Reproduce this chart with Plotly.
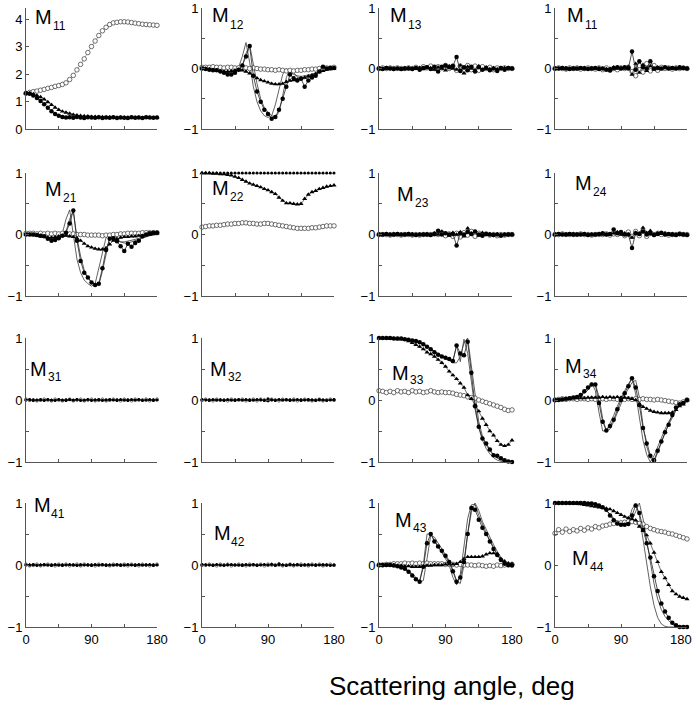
import plotly.graph_objects as go

# ---------------- data ----------------
ANGLES = [0, 5, 10, 15, 20, 25, 30, 35, 40, 45,
          50, 55, 60, 65, 70, 75, 80, 85, 90, 95,
          100, 105, 110, 115, 120, 125, 130, 135, 140, 145,
          150, 155, 160, 165, 170, 175, 180]

X_TICKS = [0, 45, 90, 135, 180]
X_TICKTEXT = ["0", "", "90", "", "180"]
Y_TICKS = [-1, -0.5, 0, 0.5, 1]
Y_TICKTEXT = ["\u22121", "", "0", "", "1"]
M11_TICKS = [0, 1, 2, 3, 4]
M11_TICKTEXT = ["0", "1", "2", "3", "4"]

LABELS = ["11", "12", "13", "11", "21", "22", "23", "24",
          "31", "32", "33", "34", "41", "42", "43", "44"]
X_TITLE = "Scattering angle, deg"

M11_open = [1.30, 1.33, 1.36, 1.38, 1.41, 1.44, 1.48, 1.51, 1.55, 1.58,
            1.62, 1.68, 1.80, 1.95, 2.15, 2.35, 2.55, 2.78, 3.00, 3.20,
            3.40, 3.57, 3.70, 3.80, 3.86, 3.88, 3.90, 3.90, 3.89, 3.87,
            3.85, 3.83, 3.81, 3.80, 3.79, 3.78, 3.77]
M11_filled = [1.30, 1.28, 1.22, 1.13, 1.02, 0.90, 0.77, 0.65, 0.55, 0.48,
              0.44, 0.42, 0.43, 0.41, 0.44, 0.42, 0.40, 0.43, 0.42, 0.41,
              0.43, 0.40, 0.42, 0.41, 0.43, 0.40, 0.42, 0.41, 0.40, 0.43,
              0.41, 0.42, 0.40, 0.43, 0.42, 0.41, 0.42]
M11_tri = [1.30, 1.30, 1.27, 1.22, 1.16, 1.08, 0.98, 0.88, 0.78, 0.70,
           0.64, 0.60, 0.56, 0.52, 0.50, 0.48, 0.47, 0.46, 0.45, 0.45,
           0.44, 0.44, 0.43, 0.43, 0.43, 0.42, 0.42, 0.42, 0.42, 0.42,
           0.42, 0.42, 0.41, 0.41, 0.41, 0.41, 0.41]

M12_open = [0.02, 0.02, 0.02, 0.03, 0.02, 0.02, 0.01, 0.02, 0.02, 0.01,
            0.01, 0.02, 0.01, 0.00, 0.01, 0.00, -0.01, -0.01, -0.02, -0.02,
            -0.03, -0.02, -0.03, -0.04, -0.03, -0.04, -0.03, -0.03, -0.02, -0.02,
            -0.01, -0.01, 0.00, 0.00, 0.01, 0.01, 0.02]
M12_filled = [0.00, -0.01, -0.02, -0.03, -0.03, -0.05, -0.07, -0.10, -0.10, -0.07,
              -0.02, 0.05, 0.20, 0.37, -0.12, -0.38, -0.55, -0.68, -0.75, -0.83,
              -0.80, -0.68, -0.50, -0.30, -0.10, -0.16, -0.20, -0.17, -0.30, -0.20,
              -0.15, -0.12, -0.05, 0.03, 0.00, 0.01, 0.01]
M12_tri = [0.00, 0.00, -0.01, -0.02, -0.03, -0.04, -0.05, -0.05, -0.04, -0.03,
           -0.02, -0.03, -0.05, -0.08, -0.12, -0.16, -0.19, -0.21, -0.23, -0.25,
           -0.26, -0.26, -0.25, -0.22, -0.20, -0.19, -0.18, -0.16, -0.15, -0.13,
           -0.11, -0.09, -0.06, -0.04, -0.02, -0.01, 0.00]
M12_th1 = [0.00, 0.00, -0.01, -0.02, -0.03, -0.04, -0.05, -0.06, -0.06, -0.04,
           0.02, 0.20, 0.43, 0.10, -0.30, -0.55, -0.70, -0.78, -0.81, -0.78,
           -0.60, -0.35, -0.10, 0.00, -0.05, -0.10, -0.12, -0.13, -0.12, -0.11,
           -0.09, -0.07, -0.05, -0.03, -0.02, -0.01, 0.00]
M12_th2 = [0.00, 0.00, -0.01, -0.02, -0.03, -0.04, -0.05, -0.06, -0.07, -0.06,
           -0.02, 0.05, 0.25, 0.39, 0.05, -0.25, -0.50, -0.65, -0.72, -0.78,
           -0.81, -0.72, -0.45, -0.15, 0.00, -0.08, -0.14, -0.16, -0.17, -0.15,
           -0.12, -0.09, -0.06, -0.03, -0.02, -0.01, 0.00]

M13_filled = [0.00, -0.01, 0.01, 0.00, -0.01, 0.00, -0.01, 0.00, 0.00, -0.01,
              0.01, -0.02, 0.01, 0.02, -0.01, 0.03, -0.05, 0.03, 0.05, 0.02,
              0.04, 0.19, -0.04, 0.02, -0.03, 0.03, -0.05, 0.02, -0.02, 0.01,
              -0.03, 0.00, -0.04, 0.01, -0.02, 0.01, 0.00]
M13_open = [0.00, 0.01, 0.00, 0.01, 0.00, 0.01, 0.00, 0.00, 0.01, 0.00,
            0.02, 0.00, 0.03, 0.01, 0.04, 0.00, 0.03, 0.01, 0.05, 0.00,
            0.04, -0.03, 0.04, -0.05, 0.05, -0.02, 0.04, -0.03, 0.03, 0.00,
            0.02, -0.02, 0.01, 0.00, 0.01, 0.00, 0.00]
M13_tri = [0.00, 0.00, 0.01, 0.00, 0.00, 0.00, -0.01, 0.00, 0.01, 0.00,
           0.00, 0.01, -0.01, 0.02, 0.01, -0.02, 0.02, 0.00, -0.03, 0.04,
           0.00, -0.02, 0.05, -0.08, 0.03, 0.00, -0.03, 0.04, -0.02, 0.02,
           -0.01, 0.01, -0.01, 0.00, 0.01, 0.00, 0.00]

M14_filled = [0.00, 0.00, 0.01, 0.00, -0.01, 0.00, 0.00, 0.01, 0.00, -0.01,
              0.00, 0.01, -0.01, 0.00, -0.02, -0.03, 0.01, 0.02, 0.00, 0.02,
              0.00, 0.28, -0.02, 0.12, 0.02, 0.00, 0.12, 0.00, 0.01, 0.00,
              0.02, 0.00, 0.01, 0.00, 0.02, 0.01, 0.00]
M14_open = [0.00, 0.01, 0.00, -0.01, 0.01, 0.00, 0.01, -0.01, 0.00, 0.01,
            0.00, -0.01, 0.01, -0.02, 0.01, -0.03, 0.00, -0.02, 0.01, 0.00,
            0.02, -0.05, -0.12, 0.05, -0.06, 0.08, -0.04, 0.05, -0.03, 0.02,
            0.00, 0.01, -0.01, 0.01, 0.00, 0.01, 0.00]
M14_tri = [0.00, 0.00, 0.00, 0.01, 0.00, 0.00, -0.01, 0.00, 0.01, 0.00,
           0.00, 0.00, 0.01, 0.00, -0.01, 0.00, 0.02, 0.00, 0.01, 0.00,
           0.03, -0.10, 0.08, -0.07, 0.06, -0.04, 0.04, -0.02, 0.02, -0.01,
           0.01, 0.00, 0.01, 0.00, 0.00, 0.00, 0.00]

M21_open = [0.02, 0.02, 0.02, 0.01, 0.02, 0.01, 0.02, 0.01, 0.02, 0.01,
            0.02, 0.01, 0.01, 0.01, 0.00, 0.00, 0.00, -0.01, -0.01, -0.01,
            -0.01, -0.02, -0.01, -0.01, 0.00, 0.00, 0.01, 0.01, 0.02, 0.02,
            0.02, 0.02, 0.03, 0.03, 0.03, 0.03, 0.03]
M21_filled = [0.00, 0.00, 0.00, -0.01, -0.02, -0.03, -0.07, -0.10, -0.09, -0.06,
              -0.02, 0.03, 0.18, 0.39, -0.10, -0.43, -0.62, -0.70, -0.78, -0.82,
              -0.80, -0.55, -0.25, -0.07, -0.06, -0.11, -0.19, -0.27, -0.15, -0.20,
              -0.14, -0.10, -0.03, 0.00, 0.02, 0.03, 0.03]
M21_tri = [0.00, 0.00, -0.01, -0.02, -0.03, -0.04, -0.05, -0.05, -0.04, -0.03,
           -0.02, -0.02, -0.03, -0.04, -0.06, -0.10, -0.15, -0.19, -0.21, -0.23,
           -0.24, -0.24, -0.22, -0.16, -0.10, -0.07, -0.05, -0.04, -0.04, -0.03,
           -0.03, -0.02, -0.02, -0.01, 0.00, 0.01, 0.02]
M21_th1 = [0.00, 0.00, -0.01, -0.02, -0.03, -0.04, -0.05, -0.06, -0.06, -0.04,
           0.02, 0.25, 0.40, 0.00, -0.40, -0.62, -0.74, -0.80, -0.84, -0.80,
           -0.55, -0.25, -0.05, 0.00, -0.06, -0.10, -0.12, -0.12, -0.11, -0.10,
           -0.08, -0.06, -0.04, -0.02, -0.01, 0.00, 0.00]
M21_th2 = [0.00, 0.00, -0.01, -0.02, -0.03, -0.04, -0.05, -0.06, -0.07, -0.06,
           -0.02, 0.05, 0.25, 0.39, -0.05, -0.35, -0.58, -0.70, -0.77, -0.81,
           -0.82, -0.60, -0.30, -0.05, 0.00, -0.07, -0.12, -0.14, -0.14, -0.12,
           -0.10, -0.07, -0.05, -0.03, -0.02, -0.01, 0.00]

M22_open = [0.12, 0.13, 0.14, 0.14, 0.15, 0.15, 0.16, 0.17, 0.17, 0.18,
            0.18, 0.19, 0.19, 0.18, 0.18, 0.17, 0.17, 0.18, 0.18, 0.17,
            0.16, 0.15, 0.14, 0.13, 0.12, 0.11, 0.10, 0.10, 0.10, 0.10,
            0.11, 0.11, 0.12, 0.13, 0.14, 0.14, 0.14]
M22_filled = [1.00, 1.00, 1.00, 1.00, 1.00, 1.00, 1.00, 1.00, 1.00, 1.00,
              1.00, 1.00, 1.00, 1.00, 1.00, 1.00, 1.00, 1.00, 1.00, 1.00,
              1.00, 1.00, 1.00, 1.00, 1.00, 1.00, 1.00, 1.00, 1.00, 1.00,
              1.00, 1.00, 1.00, 1.00, 1.00, 1.00, 1.00]
M22_tri = [1.00, 1.00, 1.00, 0.99, 0.99, 0.98, 0.98, 0.97, 0.96, 0.94,
           0.92, 0.89, 0.86, 0.83, 0.81, 0.79, 0.77, 0.74, 0.72, 0.69,
           0.66, 0.60, 0.55, 0.51, 0.51, 0.50, 0.49, 0.50, 0.58, 0.65,
           0.69, 0.71, 0.74, 0.76, 0.78, 0.79, 0.80]

M23_filled = [0.00, 0.00, 0.01, 0.00, 0.00, 0.01, 0.00, 0.00, 0.01, 0.00,
              -0.01, 0.00, 0.00, 0.00, -0.01, 0.01, 0.06, 0.00, 0.02, 0.00,
              0.01, -0.18, 0.02, 0.00, 0.04, 0.01, 0.05, 0.00, -0.02, 0.01,
              0.00, -0.01, 0.00, -0.02, 0.00, 0.00, 0.00]
M23_open = [0.00, 0.00, 0.00, -0.01, 0.00, 0.00, -0.01, 0.00, 0.00, -0.01,
            0.00, -0.01, 0.00, 0.00, 0.00, 0.01, 0.00, 0.03, -0.02, 0.01,
            -0.03, 0.02, -0.04, 0.03, -0.01, 0.05, -0.03, 0.02, 0.00, 0.01,
            -0.01, 0.00, -0.02, 0.00, -0.01, 0.00, 0.00]
M23_tri = [0.00, 0.00, 0.00, 0.00, 0.01, 0.00, 0.00, 0.00, 0.00, 0.01,
           0.00, 0.00, 0.00, 0.01, 0.00, 0.02, 0.00, 0.05, 0.02, -0.02,
           0.03, 0.00, 0.04, -0.03, 0.10, 0.02, 0.04, -0.02, 0.03, 0.00,
           0.01, 0.00, 0.01, 0.00, 0.00, 0.00, 0.00]

M24_filled = [0.00, 0.01, 0.00, 0.00, 0.01, 0.00, 0.00, 0.00, 0.01, -0.01,
              0.00, 0.00, 0.01, 0.02, 0.00, 0.01, 0.08, 0.02, 0.04, 0.00,
              0.00, -0.22, 0.02, 0.01, 0.05, 0.00, 0.02, -0.01, 0.01, 0.03,
              0.00, 0.01, 0.00, -0.01, 0.01, 0.00, -0.01]
M24_open = [0.00, 0.00, 0.01, 0.00, 0.00, 0.00, 0.00, 0.01, 0.00, 0.00,
            -0.01, 0.00, 0.00, 0.00, 0.01, -0.01, 0.01, 0.00, 0.02, -0.02,
            0.04, -0.03, 0.05, -0.02, 0.06, -0.03, 0.02, 0.00, 0.02, 0.00,
            0.01, -0.01, 0.00, 0.00, 0.01, 0.00, 0.00]
M24_tri = [0.00, 0.00, 0.00, 0.00, 0.00, 0.01, 0.00, 0.00, 0.00, 0.00,
           0.00, 0.00, 0.01, 0.00, 0.00, 0.00, 0.02, 0.04, 0.00, 0.02,
           0.00, -0.05, 0.03, 0.02, 0.11, 0.03, 0.06, 0.00, 0.02, 0.01,
           0.02, 0.00, 0.01, 0.00, 0.00, 0.00, 0.00]

M31_filled = [0.00, 0.01, -0.01, 0.00, 0.01, -0.01, 0.01, 0.00, -0.01, 0.01,
              0.00, -0.01, 0.01, 0.00, 0.01, -0.01, 0.00, 0.01, -0.01, 0.00,
              0.01, -0.01, 0.00, 0.01, 0.00, -0.01, 0.01, 0.00, -0.01, 0.01,
              0.00, 0.01, -0.01, 0.00, 0.01, -0.01, 0.00]
M31_open = [0.01, 0.00, 0.00, -0.01, 0.00, 0.01, 0.00, -0.01, 0.01, 0.00,
            -0.01, 0.00, 0.01, -0.01, 0.00, 0.01, -0.01, 0.00, 0.01, -0.01,
            0.00, 0.01, -0.01, 0.00, 0.01, 0.00, -0.01, 0.01, 0.00, -0.01,
            0.01, 0.00, 0.00, 0.01, -0.01, 0.00, 0.01]
M31_tri = [0.00, -0.01, 0.01, 0.00, -0.01, 0.00, 0.01, -0.01, 0.00, 0.01,
           -0.01, 0.01, 0.00, -0.01, 0.01, 0.00, -0.01, 0.01, 0.00, 0.01,
           -0.01, 0.00, 0.01, -0.01, 0.00, 0.01, 0.00, -0.01, 0.01, 0.00,
           -0.01, 0.01, 0.00, -0.01, 0.00, 0.01, 0.00]

M32_filled = [0.01, 0.00, -0.01, 0.01, 0.00, 0.00, -0.01, 0.01, 0.00, -0.01,
              0.01, 0.00, 0.01, -0.01, 0.00, 0.01, 0.00, -0.01, 0.02, 0.00,
              -0.01, 0.01, 0.00, 0.01, -0.01, 0.00, 0.01, -0.01, 0.00, 0.01,
              0.00, -0.01, 0.01, 0.00, -0.01, 0.00, 0.01]
M32_open = [0.00, 0.01, 0.00, -0.01, 0.01, 0.00, 0.00, -0.01, 0.01, 0.00,
            0.00, 0.01, -0.01, 0.00, 0.01, -0.01, 0.01, 0.00, -0.01, 0.01,
            0.00, -0.01, 0.01, 0.00, 0.00, 0.01, -0.01, 0.00, 0.01, 0.00,
            -0.01, 0.00, 0.01, -0.01, 0.00, 0.01, 0.00]
M32_tri = [-0.01, 0.00, 0.01, 0.00, -0.01, 0.01, 0.00, 0.00, -0.01, 0.01,
           0.00, -0.01, 0.00, 0.01, -0.01, 0.00, 0.01, 0.00, -0.02, 0.01,
           0.00, 0.01, -0.01, 0.00, 0.01, -0.01, 0.00, 0.01, 0.00, -0.01,
           0.01, 0.00, -0.01, 0.01, 0.00, 0.00, -0.01]

M33_open = [0.15, 0.14, 0.12, 0.14, 0.12, 0.15, 0.13, 0.14, 0.12, 0.15,
            0.13, 0.14, 0.12, 0.13, 0.15, 0.13, 0.12, 0.13, 0.12, 0.12,
            0.11, 0.09, 0.08, 0.07, 0.05, 0.04, 0.03, 0.00, -0.02, -0.04,
            -0.06, -0.08, -0.10, -0.12, -0.15, -0.17, -0.16]
M33_filled = [1.00, 1.00, 1.00, 1.00, 0.99, 0.99, 0.99, 0.98, 0.97, 0.96,
              0.95, 0.93, 0.90, 0.86, 0.82, 0.77, 0.73, 0.70, 0.68, 0.66,
              0.63, 0.88, 0.75, 0.72, 0.94, 0.44, -0.10, -0.43, -0.62, -0.70,
              -0.80, -0.89, -0.90, -0.94, -0.97, -0.99, -1.00]
M33_tri = [1.00, 1.00, 1.00, 0.99, 0.99, 0.98, 0.98, 0.97, 0.95, 0.92,
           0.89, 0.86, 0.82, 0.77, 0.74, 0.70, 0.65, 0.60, 0.54, 0.46,
           0.40, 0.34, 0.27, 0.20, 0.08, 0.02, -0.08, -0.18, -0.30, -0.40,
           -0.50, -0.57, -0.66, -0.72, -0.74, -0.72, -0.65]
M33_th1 = [1.00, 1.00, 1.00, 1.00, 1.00, 0.99, 0.99, 0.98, 0.97, 0.96,
           0.95, 0.93, 0.90, 0.86, 0.82, 0.78, 0.74, 0.70, 0.67, 0.64,
           0.62, 0.88, 0.62, 0.98, 0.75, 0.30, -0.15, -0.45, -0.65, -0.78,
           -0.87, -0.93, -0.97, -0.99, -1.00, -1.00, -1.00]
M33_th2 = [1.00, 1.00, 1.00, 1.00, 1.00, 0.99, 0.99, 0.98, 0.97, 0.96,
           0.95, 0.93, 0.90, 0.86, 0.82, 0.78, 0.74, 0.70, 0.67, 0.64,
           0.60, 0.60, 0.70, 0.92, 1.00, 0.55, 0.05, -0.35, -0.58, -0.72,
           -0.82, -0.89, -0.94, -0.97, -0.99, -1.00, -1.00]

M34_open = [0.00, 0.01, 0.02, 0.01, 0.02, 0.02, 0.01, 0.02, 0.02, 0.01,
            0.02, 0.01, 0.02, 0.02, 0.01, 0.02, 0.02, 0.01, 0.02, 0.01,
            0.02, 0.01, 0.02, 0.01, 0.02, 0.01, 0.01, 0.00, 0.01, 0.00,
            -0.01, -0.02, -0.03, -0.04, -0.05, -0.03, 0.00]
M34_filled = [0.00, 0.00, 0.01, 0.02, 0.03, 0.04, 0.05, 0.08, 0.14, 0.20,
              0.25, 0.25, -0.05, -0.35, -0.49, -0.42, -0.32, -0.15, 0.00, 0.11,
              0.22, 0.35, 0.20, -0.08, -0.45, -0.70, -0.90, -0.97, -0.82, -0.67,
              -0.52, -0.40, -0.24, -0.12, -0.07, -0.05, 0.00]
M34_tri = [0.00, 0.00, 0.01, 0.02, 0.02, 0.03, 0.03, 0.03, 0.03, 0.04,
           0.04, 0.04, 0.04, 0.05, 0.04, 0.05, 0.04, 0.05, 0.04, 0.04,
           0.03, 0.02, 0.00, -0.07, -0.11, -0.14, -0.17, -0.19, -0.20, -0.21,
           -0.21, -0.21, -0.20, -0.16, -0.10, -0.07, 0.00]
M34_th1 = [0.00, 0.00, 0.01, 0.02, 0.03, 0.04, 0.06, 0.09, 0.14, 0.20,
           0.28, 0.15, -0.20, -0.50, -0.50, -0.38, -0.25, -0.10, 0.03, 0.15,
           0.26, 0.35, 0.10, -0.30, -0.65, -0.88, -1.00, -0.90, -0.75, -0.60,
           -0.47, -0.35, -0.25, -0.15, -0.08, -0.03, 0.00]
M34_th2 = [0.00, 0.00, 0.01, 0.02, 0.03, 0.04, 0.05, 0.07, 0.11, 0.16,
           0.24, 0.26, 0.05, -0.30, -0.50, -0.47, -0.35, -0.20, -0.05, 0.08,
           0.18, 0.28, 0.32, 0.05, -0.40, -0.75, -0.93, -1.00, -0.85, -0.68,
           -0.53, -0.40, -0.28, -0.17, -0.09, -0.04, 0.00]

M41_filled = [0.00, 0.00, 0.01, -0.01, 0.00, 0.01, 0.00, -0.01, 0.01, 0.00,
              -0.01, 0.00, 0.01, 0.00, -0.01, 0.01, 0.00, 0.00, -0.01, 0.01,
              0.00, 0.01, -0.01, 0.00, 0.00, 0.01, -0.01, 0.00, 0.01, 0.00,
              -0.01, 0.01, 0.00, 0.00, 0.01, -0.01, 0.00]
M41_open = [0.01, -0.01, 0.00, 0.01, -0.01, 0.00, 0.01, 0.00, -0.01, 0.01,
            0.00, 0.01, -0.01, 0.00, 0.01, -0.01, 0.01, 0.00, 0.00, -0.01,
            0.01, 0.00, 0.00, -0.01, 0.01, 0.00, 0.00, 0.01, -0.01, 0.01,
            0.00, -0.01, 0.01, 0.00, -0.01, 0.00, 0.01]
M41_tri = [0.00, 0.01, -0.01, 0.00, 0.01, 0.00, -0.01, 0.01, 0.00, -0.01,
           0.01, 0.00, 0.00, 0.01, 0.00, -0.01, 0.00, 0.01, 0.01, 0.00,
           -0.01, 0.00, 0.01, 0.01, -0.01, 0.00, 0.01, -0.01, 0.00, 0.00,
           0.01, 0.00, -0.01, 0.01, 0.00, 0.01, 0.00]

M42_filled = [0.01, 0.00, 0.00, -0.01, 0.01, 0.00, -0.01, 0.00, 0.01, 0.00,
              0.00, -0.01, 0.01, 0.00, 0.01, -0.01, 0.00, 0.01, 0.00, 0.01,
              -0.01, 0.02, 0.00, -0.01, 0.01, 0.00, 0.01, -0.01, 0.00, 0.01,
              0.00, -0.01, 0.00, 0.01, 0.00, -0.01, 0.00]
M42_open = [0.00, 0.00, 0.01, 0.00, -0.01, 0.01, 0.00, 0.01, -0.01, 0.00,
            0.01, 0.00, -0.01, 0.01, 0.00, 0.00, 0.01, -0.01, 0.01, 0.00,
            0.00, 0.01, -0.01, 0.00, 0.01, -0.01, 0.00, 0.01, 0.00, -0.01,
            0.01, 0.00, 0.01, -0.01, 0.00, 0.01, 0.00]
M42_tri = [-0.01, 0.01, 0.00, 0.00, 0.01, -0.01, 0.00, 0.01, 0.00, 0.00,
           -0.01, 0.01, 0.00, -0.01, 0.01, 0.00, 0.00, 0.01, -0.01, 0.02,
           0.00, -0.01, 0.01, 0.00, -0.01, 0.01, 0.00, 0.00, 0.01, -0.01,
           0.00, 0.01, 0.00, -0.01, 0.01, 0.00, -0.01]

M43_open = [0.00, 0.00, 0.01, 0.01, 0.02, 0.02, 0.02, 0.03, 0.02, 0.03,
            0.02, 0.03, 0.02, 0.03, 0.02, 0.02, 0.02, 0.02, 0.01, 0.01,
            0.01, 0.00, 0.01, 0.00, 0.00, 0.00, -0.01, 0.00, -0.01, -0.02,
            -0.01, -0.02, 0.00, -0.01, 0.00, 0.00, 0.01]
M43_filled = [0.00, 0.00, 0.00, 0.00, -0.01, -0.02, -0.04, -0.06, -0.11, -0.17,
              -0.23, -0.27, -0.03, 0.35, 0.50, 0.38, 0.30, 0.23, 0.15, 0.05,
              -0.10, -0.27, -0.20, 0.05, 0.50, 0.92, 0.89, 0.73, 0.60, 0.50,
              0.38, 0.26, 0.16, 0.08, 0.02, 0.00, -0.01]
M43_tri = [0.00, 0.00, 0.00, 0.00, 0.00, -0.01, -0.01, -0.02, -0.02, -0.03,
           -0.03, -0.03, -0.02, -0.01, -0.01, 0.00, 0.00, 0.00, 0.01, 0.01,
           0.01, 0.02, 0.05, 0.10, 0.13, 0.13, 0.13, 0.13, 0.14, 0.17,
           0.19, 0.19, 0.18, 0.10, 0.06, 0.03, 0.02]
M43_th1 = [0.00, 0.00, 0.00, -0.01, -0.02, -0.03, -0.05, -0.07, -0.11, -0.17,
           -0.25, -0.25, 0.00, 0.50, 0.50, 0.40, 0.30, 0.20, 0.10, 0.00,
           -0.20, -0.32, -0.15, 0.30, 0.75, 0.97, 0.98, 0.80, 0.65, 0.52,
           0.40, 0.28, 0.17, 0.08, 0.01, -0.01, 0.00]
M43_th2 = [0.00, 0.00, 0.00, -0.01, -0.02, -0.03, -0.04, -0.06, -0.09, -0.14,
           -0.20, -0.28, -0.25, 0.10, 0.48, 0.45, 0.36, 0.27, 0.17, 0.07,
           -0.08, -0.25, -0.30, 0.00, 0.50, 0.85, 1.00, 0.88, 0.70, 0.57,
           0.45, 0.33, 0.22, 0.12, 0.05, 0.01, 0.00]

M44_open = [0.51, 0.57, 0.53, 0.58, 0.54, 0.57, 0.55, 0.59, 0.56, 0.60,
            0.58, 0.62, 0.60, 0.63, 0.64, 0.66, 0.67, 0.68, 0.68, 0.69,
            0.70, 0.70, 0.69, 0.67, 0.66, 0.62, 0.59, 0.57, 0.55, 0.54,
            0.53, 0.51, 0.50, 0.48, 0.46, 0.44, 0.42]
M44_filled = [1.00, 1.00, 1.00, 1.00, 1.00, 1.00, 1.00, 1.00, 1.00, 0.99,
              0.99, 0.98, 0.96, 0.93, 0.89, 0.80, 0.72, 0.67, 0.65, 0.65,
              0.66, 0.80, 0.96, 0.84, 0.57, 0.35, 0.12, -0.18, -0.42, -0.62,
              -0.75, -0.85, -0.93, -0.97, -1.00, -1.00, -1.00]
M44_tri = [1.00, 1.00, 1.00, 1.00, 1.00, 0.99, 0.99, 0.98, 0.97, 0.96,
           0.95, 0.94, 0.93, 0.92, 0.91, 0.90, 0.87, 0.84, 0.81, 0.78,
           0.76, 0.74, 0.72, 0.62, 0.55, 0.48, 0.35, 0.20, 0.05, -0.11,
           -0.21, -0.32, -0.42, -0.47, -0.51, -0.53, -0.55]
M44_th1 = [1.00, 1.00, 1.00, 1.00, 1.00, 1.00, 1.00, 1.00, 1.00, 1.00,
           1.00, 0.99, 0.97, 0.93, 0.88, 0.82, 0.75, 0.70, 0.66, 0.65,
           0.70, 0.90, 0.99, 0.80, 0.40, 0.05, -0.35, -0.65, -0.85, -0.95,
           -0.99, -1.00, -1.00, -1.00, -1.00, -1.00, -1.00]
M44_th2 = [1.00, 1.00, 1.00, 1.00, 1.00, 1.00, 1.00, 1.00, 1.00, 1.00,
           1.00, 0.99, 0.97, 0.93, 0.88, 0.82, 0.75, 0.70, 0.66, 0.65,
           0.66, 0.72, 0.85, 1.00, 0.75, 0.40, 0.05, -0.30, -0.55, -0.72,
           -0.83, -0.90, -0.95, -0.98, -1.00, -1.00, -1.00]

# ---------------- layout geometry (pixels) ----------------
W, H = 695, 701
COL_PX = [(26, 157), (202, 334), (379, 512), (555, 687)]
ROW_PX = [(8, 129), (173, 296), (338, 462), (503, 627)]
# (M left x, M centre y, subscript left x, subscript centre y)
LABEL_PX = [(33, 17, 51, 26), (210, 15, 228, 25), (388, 15, 406, 25), (565, 15, 583, 25),
            (43, 189, 61, 198), (210, 188, 228, 197), (395, 194, 413, 203), (573, 183, 591, 192),
            (28, 369, 46, 377), (208, 369, 226, 377), (390, 373, 408, 380), (563, 366, 581, 374),
            (32, 505, 49, 514), (212, 533, 229, 542), (393, 520, 411, 528), (570, 558, 588, 567)]

PANELS = [
    (M11_open, M11_tri, M11_filled, None, None, False),
    (M12_open, M12_tri, M12_filled, M12_th1, M12_th2, False),
    (M13_open, M13_tri, M13_filled, None, None, False),
    (M14_open, M14_tri, M14_filled, None, None, False),
    (M21_open, M21_tri, M21_filled, M21_th1, M21_th2, False),
    (M22_open, M22_tri, M22_filled, None, None, False),
    (M23_open, M23_tri, M23_filled, None, None, False),
    (M24_open, M24_tri, M24_filled, None, None, False),
    (M31_open, M31_tri, M31_filled, None, None, True),
    (M32_open, M32_tri, M32_filled, None, None, True),
    (M33_open, M33_tri, M33_filled, M33_th1, M33_th2, False),
    (M34_open, M34_tri, M34_filled, M34_th1, M34_th2, False),
    (M41_open, M41_tri, M41_filled, None, None, True),
    (M42_open, M42_tri, M42_filled, None, None, True),
    (M43_open, M43_tri, M43_filled, M43_th1, M43_th2, False),
    (M44_open, M44_tri, M44_filled, M44_th1, M44_th2, False),
]

FONT = "Liberation Sans, Arial, Helvetica, sans-serif"
AXCOL = "#555555"

fig = go.Figure()
layout = dict(width=W, height=H, margin=dict(l=0, r=0, t=0, b=0, pad=0),
              paper_bgcolor="white", plot_bgcolor="white", showlegend=False,
              font=dict(family=FONT, color="black", size=13))
annotations = []

for k, (op, tr, fl, t1, t2, noise) in enumerate(PANELS):
    r, c = divmod(k, 4)
    xid = "x" if k == 0 else f"x{k+1}"
    yid = "y" if k == 0 else f"y{k+1}"
    xkey = "xaxis" if k == 0 else f"xaxis{k+1}"
    ykey = "yaxis" if k == 0 else f"yaxis{k+1}"
    x0, x1 = COL_PX[c]
    ytop, ybot = ROW_PX[r]
    ms = 3 if noise else 4.5
    for th in (t1, t2):
        if th is not None:
            fig.add_trace(go.Scatter(x=ANGLES, y=th, xaxis=xid, yaxis=yid, mode="lines",
                                     line=dict(color="#3a3a3a", width=0.8),
                                     cliponaxis=False, hoverinfo="skip"))
    fig.add_trace(go.Scatter(x=ANGLES, y=op, xaxis=xid, yaxis=yid, mode="lines+markers",
                             line=dict(color="#777777", width=0.6),
                             marker=dict(symbol="circle", size=ms, color="white",
                                         line=dict(color="#333333", width=0.7)),
                             cliponaxis=False))
    fig.add_trace(go.Scatter(x=ANGLES, y=tr, xaxis=xid, yaxis=yid, mode="lines+markers",
                             line=dict(color="#333333", width=0.7),
                             marker=dict(symbol="triangle-up", size=ms, color="black"),
                             cliponaxis=False))
    fig.add_trace(go.Scatter(x=ANGLES, y=fl, xaxis=xid, yaxis=yid, mode="lines+markers",
                             line=dict(color="#222222", width=0.8),
                             marker=dict(symbol="circle", size=ms if k != 5 else 3,
                                         color="black"),
                             cliponaxis=False))

    bottom = (r == 3)
    if bottom and c == 3:
        # last label would run past the page edge; it is placed as a right-aligned text below
        xt = X_TICKTEXT[:4] + [""]
    elif bottom:
        xt = X_TICKTEXT
    else:
        xt = ["", "", "", "", ""]
    layout[xkey] = dict(domain=[x0 / W, x1 / W], range=[0, 180], anchor=yid,
                        tickmode="array", tickvals=X_TICKS, ticktext=xt,
                        showline=True, linecolor=AXCOL, linewidth=1,
                        ticks="inside", ticklen=3, tickwidth=1, tickcolor=AXCOL,
                        showgrid=False, zeroline=False, automargin=False,
                        tickfont=dict(size=13, family=FONT, color="black"))
    if k == 0:
        yv, yt, yr = M11_TICKS, M11_TICKTEXT, [0, 4.4]
    else:
        yv, yt, yr = Y_TICKS, Y_TICKTEXT, [-1, 1]
    layout[ykey] = dict(domain=[1 - ybot / H, 1 - ytop / H], range=yr, anchor=xid,
                        tickmode="array", tickvals=yv, ticktext=yt,
                        showline=True, linecolor=AXCOL, linewidth=1,
                        ticks="inside", ticklen=3, tickwidth=1, tickcolor=AXCOL,
                        showgrid=False, zeroline=False, automargin=False,
                        tickfont=dict(size=13, family=FONT, color="black"))

    mx, my, sx, sy = LABEL_PX[k]
    annotations.append(dict(text="M", x=mx / W, y=1 - my / H, xref="paper", yref="paper",
                            xanchor="left", yanchor="middle", showarrow=False,
                            font=dict(size=20, family=FONT, color="black")))
    annotations.append(dict(text=LABELS[k], x=sx / W, y=1 - sy / H, xref="paper", yref="paper",
                            xanchor="left", yanchor="middle", showarrow=False,
                            font=dict(size=12, family=FONT, color="black")))

# the "180" tick label of the bottom-right panel, kept inside the page
annotations.append(dict(text=X_TICKTEXT[4], x=694 / W, y=1 - 639 / H, xref="paper", yref="paper",
                        xanchor="right", yanchor="middle", showarrow=False,
                        font=dict(size=13, family=FONT, color="black")))
annotations.append(dict(text=X_TITLE, x=452 / W, y=1 - 686 / H, xref="paper", yref="paper",
                        xanchor="center", yanchor="middle", showarrow=False,
                        font=dict(size=26, family=FONT, color="black")))
layout["annotations"] = annotations
fig.update_layout(**layout)
fig.write_html("out.html")
